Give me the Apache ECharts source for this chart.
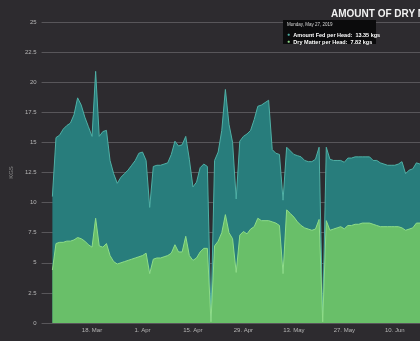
<!DOCTYPE html>
<html><head><meta charset="utf-8">
<script src="https://cdn.jsdelivr.net/npm/echarts@6/dist/echarts.min.js"></script>
<style>html,body{margin:0;padding:0;background:#2d2b2f;}#c{width:420px;height:341px;}</style>
</head><body><div id="c"></div>
<script>
// Daily values starting 7 Mar 2019
var startDate = [2019, 2, 7];
var padBefore = 3; // axis starts 3 days before first value (4 Mar)
var amountFed = [10.5,15.4,15.6,16.1,16.4,16.6,17.3,18.7,18.1,17.1,16.3,15.5,20.9,15.5,15.9,16.0,13.5,12.4,11.6,12.1,
  12.4,12.7,13.1,13.5,14.1,14.2,13.5,9.6,13.0,13.1,13.1,13.2,13.3,14.0,15.1,14.7,14.8,15.5,13.6,11.3,
  11.7,12.9,13.2,13.0,0.2,13.5,14.2,16.0,19.4,16.5,15.0,10.3,15.1,15.5,15.7,16.0,16.9,18.0,18.1,18.3,
  18.5,14.4,14.1,14.0,10.2,14.6,14.3,14.0,13.9,13.8,13.5,13.4,13.4,13.6,14.6,0.3,14.6,13.6,13.5,13.5,
  13.5,13.35,13.7,13.7,13.8,13.8,13.8,13.8,13.8,13.5,13.5,13.3,13.2,13.1,13.1,13.1,13.2,13.4,12.4,12.7,
  12.8,13.3,13.2];
var dryMatter = [4.4,6.6,6.7,6.7,6.8,6.8,6.9,7.1,7.0,6.8,6.5,6.3,8.7,6.4,6.3,6.6,5.6,5.1,4.9,5.0,
  5.1,5.2,5.3,5.4,5.5,5.6,5.8,4.1,5.3,5.4,5.4,5.5,5.6,5.8,6.5,5.9,5.9,7.2,5.6,5.2,
  5.4,5.9,6.2,6.2,0.1,6.4,6.8,7.5,9.0,7.5,7.0,4.2,7.3,7.6,7.4,7.8,8.0,8.7,8.5,8.5,
  8.5,8.4,8.3,8.1,4.1,9.4,9.1,8.8,8.4,8.1,7.9,7.8,7.7,7.8,8.6,0.1,8.5,7.7,7.8,7.9,
  8.0,7.82,8.1,8.1,8.2,8.2,8.3,8.3,8.3,8.2,8.1,8.0,8.0,8.0,8.0,8.0,8.0,7.9,7.7,7.8,
  7.9,8.3,8.3];
var yTicks = {min: 0, max: 25, interval: 2.5};
var tooltipIndex = 81; // 27 May 2019
var seriesNames = ['Amount Fed per Head', 'Dry Matter per Head'];

var months = ['Jan','Feb','Mar','Apr','May','Jun','Jul','Aug','Sep','Oct','Nov','Dec'];
var days = ['Sunday','Monday','Tuesday','Wednesday','Thursday','Friday','Saturday'];
var categories = [], dates = [];
var total = padBefore + amountFed.length;
for (var i = 0; i < total; i++) {
  var d = new Date(Date.UTC(startDate[0], startDate[1], startDate[2] - padBefore + i));
  dates.push(d);
  categories.push(d.getUTCDate() + '. ' + months[d.getUTCMonth()]);
}
function pad(arr){ var out=[]; for(var i=0;i<padBefore;i++) out.push('-'); return out.concat(arr); }
var firstLabelIdx = padBefore + 11; // 18 Mar

var td = dates[padBefore + tooltipIndex];
var tipDate = days[td.getUTCDay()] + ', ' + months[td.getUTCMonth()] + ' ' + td.getUTCDate() + ', ' + td.getUTCFullYear();

var chart = echarts.init(document.getElementById('c'), null, {renderer:'canvas'});
chart.setOption({
  backgroundColor: '#2d2b2f',
  animation: false,
  title: {
    text: 'AMOUNT OF DRY MATTER FED PER HEAD',
    left: 326, top: 4,
    textStyle: {color: '#f2f2f2', fontSize: 10, fontWeight: 'bold', fontFamily: 'Liberation Sans'}
  },
  grid: {left: 30, right: 0, top: 22, bottom: 18, containLabel: false},
  xAxis: {
    type: 'category', data: categories, boundaryGap: false,
    axisLine: {show: false}, axisTick: {show: false},
    axisLabel: {
      color: '#b5b5b5', fontSize: 6, margin: 4, fontFamily: 'Liberation Sans',
      interval: function(idx){ return idx >= firstLabelIdx && (idx - firstLabelIdx) % 14 === 0; }
    },
    splitLine: {show: false}
  },
  yAxis: {
    type: 'value', min: yTicks.min, max: yTicks.max, interval: yTicks.interval,
    name: 'KGS', nameLocation: 'middle', nameGap: 21, nameRotate: 90,
    nameTextStyle: {color: '#8a8a8a', fontSize: 6, fontFamily: 'Liberation Sans'},
    axisLine: {show: false}, axisTick: {show: false},
    axisLabel: {color: '#b5b5b5', fontSize: 6, margin: 5, fontFamily: 'Liberation Sans'},
    splitLine: {lineStyle: {color: '#58565a', width: 1}}
  },
  series: [
    {name: seriesNames[0], type: 'line', data: pad(amountFed), showSymbol: false,
     lineStyle: {color: '#4fb0a6', width: 1},
     areaStyle: {color: '#287d7c', opacity: 1}, z: 2},
    {name: seriesNames[1], type: 'line', data: pad(dryMatter), showSymbol: false,
     lineStyle: {color: '#8fdc88', width: 1},
     areaStyle: {color: '#69bf69', opacity: 1}, z: 3}
  ],
  graphic: [
    {type: 'rect', left: 283, top: 20, shape: {width: 93, height: 24}, style: {fill: '#0b0b0c'}, z: 100},
    {type: 'text', left: 287, top: 22, z: 101,
     style: {text: tipDate, fill: '#d8d8d8', fontSize: 4.5, fontFamily: 'Liberation Sans'}},
    {type: 'text', left: 287, top: 29, z: 101,
     style: {rich: {b: {fill: '#4fb0a6', fontSize: 5}, t: {fill: '#ffffff', fontSize: 5.5, fontWeight: 'bold', fontFamily: 'Liberation Sans'}},
       text: '{b|●} {t|' + seriesNames[0] + ':  ' + amountFed[tooltipIndex].toFixed(2) + ' kgs}'}},
    {type: 'text', left: 287, top: 36, z: 101,
     style: {rich: {b: {fill: '#8fdc88', fontSize: 5}, t: {fill: '#ffffff', fontSize: 5.5, fontWeight: 'bold', fontFamily: 'Liberation Sans'}},
       text: '{b|●} {t|' + seriesNames[1] + ':  ' + dryMatter[tooltipIndex].toFixed(2) + ' kgs}'}}
  ]
});
</script></body></html>
